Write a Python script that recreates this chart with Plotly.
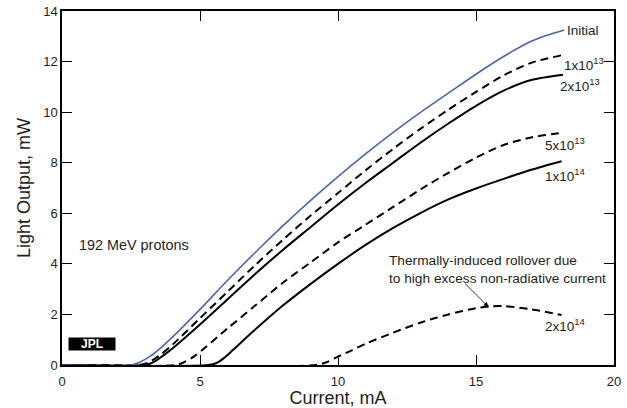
import plotly.graph_objects as go

# Data (Current, mA -> Light Output, mW)
initial_x = [0, 2.5, 2.8, 3.2, 3.6, 4.0, 5.0, 6.0, 7.0, 8.0, 9.0, 10.0, 11.0, 12.0, 13.0, 14.0, 15.0, 16.0, 17.0, 17.6, 18.2]
initial_y = [0, 0, 0.1, 0.35, 0.7, 1.1, 2.2, 3.35, 4.45, 5.5, 6.5, 7.45, 8.35, 9.2, 10.0, 10.75, 11.5, 12.2, 12.8, 13.05, 13.25]

p1e13_x = [0, 2.8, 3.1, 3.5, 4, 5, 6, 7, 8, 9, 10, 11, 12, 13, 14, 15, 16, 17, 18.1]
p1e13_y = [0, 0, 0.08, 0.35, 0.8, 1.85, 2.9, 3.95, 4.95, 5.9, 6.8, 7.7, 8.55, 9.35, 10.1, 10.8, 11.45, 11.95, 12.25]

p2e13_x = [0, 3.0, 3.3, 3.7, 4, 5, 6, 7, 8, 9, 10, 11, 12, 13, 14, 15, 16, 17, 18.15]
p2e13_y = [0, 0, 0.1, 0.4, 0.65, 1.6, 2.6, 3.6, 4.55, 5.45, 6.35, 7.2, 8.0, 8.8, 9.55, 10.25, 10.85, 11.27, 11.48]

p5e13_x = [0, 4.1, 4.4, 4.8, 5.2, 6, 7, 8, 9, 10, 11, 12, 13, 14, 15, 16, 17, 18.1]
p5e13_y = [0, 0, 0.1, 0.35, 0.7, 1.45, 2.35, 3.25, 4.05, 4.85, 5.55, 6.25, 6.95, 7.6, 8.2, 8.7, 9.0, 9.18]

p1e14_x = [0, 5.3, 5.6, 5.9, 6.2, 7, 8, 9, 10, 11, 12, 13, 14, 15, 16, 17, 18.1]
p1e14_y = [0, 0, 0.08, 0.3, 0.6, 1.4, 2.35, 3.2, 4.0, 4.75, 5.42, 6.02, 6.55, 6.98, 7.36, 7.72, 8.06]

p2e14_x = [0, 9.2, 9.6, 10, 10.5, 11, 12, 13, 14, 15, 15.5, 16, 17, 18.1]
p2e14_y = [0, 0, 0.12, 0.33, 0.58, 0.84, 1.28, 1.68, 2.0, 2.25, 2.32, 2.33, 2.2, 1.98]

labels = ["Initial", "1x10<sup>13</sup>", "2x10<sup>13</sup>", "5x10<sup>13</sup>", "1x10<sup>14</sup>", "2x10<sup>14</sup>"]
label_x = [18.23, 18.1, 17.96, 17.43, 17.43, 17.43]
label_y = [13.21, 11.9, 11.07, 8.74, 7.51, 1.58]

x_ticks = [0, 5, 10, 15, 20]
y_ticks = [0, 2, 4, 6, 8, 10, 12, 14]

FONT = "Arial, Liberation Sans, sans-serif"
BLUE = "#5064ad"
TXT = "#1e1e1e"

series = [
    (initial_x, initial_y, BLUE, 1.6, "solid"),
    (p1e13_x, p1e13_y, "black", 2, "8px,5px"),
    (p2e13_x, p2e13_y, "black", 2, "solid"),
    (p5e13_x, p5e13_y, "black", 2, "8px,5px"),
    (p1e14_x, p1e14_y, "black", 2, "solid"),
    (p2e14_x, p2e14_y, "black", 2, "8px,5px"),
]

fig = go.Figure()
for xs, ys, col, w, dash in reversed(series):
    fig.add_trace(go.Scatter(x=xs, y=ys, mode="lines",
                             line=dict(color=col, width=w, dash=dash, shape="spline", smoothing=0.8),
                             showlegend=False, hoverinfo="skip"))

for t, lx, ly in zip(labels, label_x, label_y):
    fig.add_annotation(x=lx, y=ly, text=t, showarrow=False, xanchor="left", yanchor="middle",
                       font=dict(family=FONT, size=13.5, color=TXT))

fig.add_annotation(x=0.53, y=4.74, text="192 MeV protons", showarrow=False, xanchor="left",
                   yanchor="middle", font=dict(family=FONT, size=14.4, color=TXT))

fig.add_annotation(x=11.76, y=3.79, text="Thermally-induced rollover due<br>to high excess non-radiative current",
                   showarrow=False, xanchor="left", yanchor="middle", align="left",
                   font=dict(family=FONT, size=13.7, color=TXT))

fig.add_annotation(x=15.45, y=2.3, ax=14.54, ay=3.29, axref="x", ayref="y", xref="x", yref="y",
                   text="", showarrow=True, arrowhead=2, arrowsize=1.2, arrowwidth=0.8, arrowcolor="black")

# JPL logo box
fig.add_annotation(x=(92 - 62) / 552, y=(365 - 344) / 354.3, xref="paper", yref="paper",
                   xanchor="center", yanchor="middle",
                   text="<b>JPL</b>", showarrow=False, font=dict(family=FONT, size=12, color="white"),
                   bgcolor="black", borderpad=0, width=46, height=12)

fig.update_xaxes(range=[0, 20], tickvals=x_ticks, ticks="inside", ticklen=10, tickcolor="black",
                 showline=True, linecolor="black", linewidth=1.5, mirror="ticks", showgrid=False,
                 zeroline=False, automargin=False, ticklabelstandoff=4,
                 tickfont=dict(family=FONT, size=13, color=TXT),
                 title=dict(text="Current, mA", font=dict(family=FONT, size=18, color=TXT), standoff=6))
fig.update_yaxes(range=[0, 14], tickvals=y_ticks, ticks="inside", ticklen=10, tickcolor="black",
                 showline=True, linecolor="black", linewidth=1.5, mirror="ticks", showgrid=False,
                 zeroline=False, automargin=False, tickfont=dict(family=FONT, size=13, color=TXT),
                 title=dict(text="Light Output, mW", font=dict(family=FONT, size=18, color=TXT), standoff=8))

fig.update_layout(width=627, height=408, margin=dict(l=62, r=13, t=11, b=43),
                  plot_bgcolor="white", paper_bgcolor="white")

fig.write_html("out.html", config={"displayModeBar": False},
               post_script="document.body.style.margin='0';")
